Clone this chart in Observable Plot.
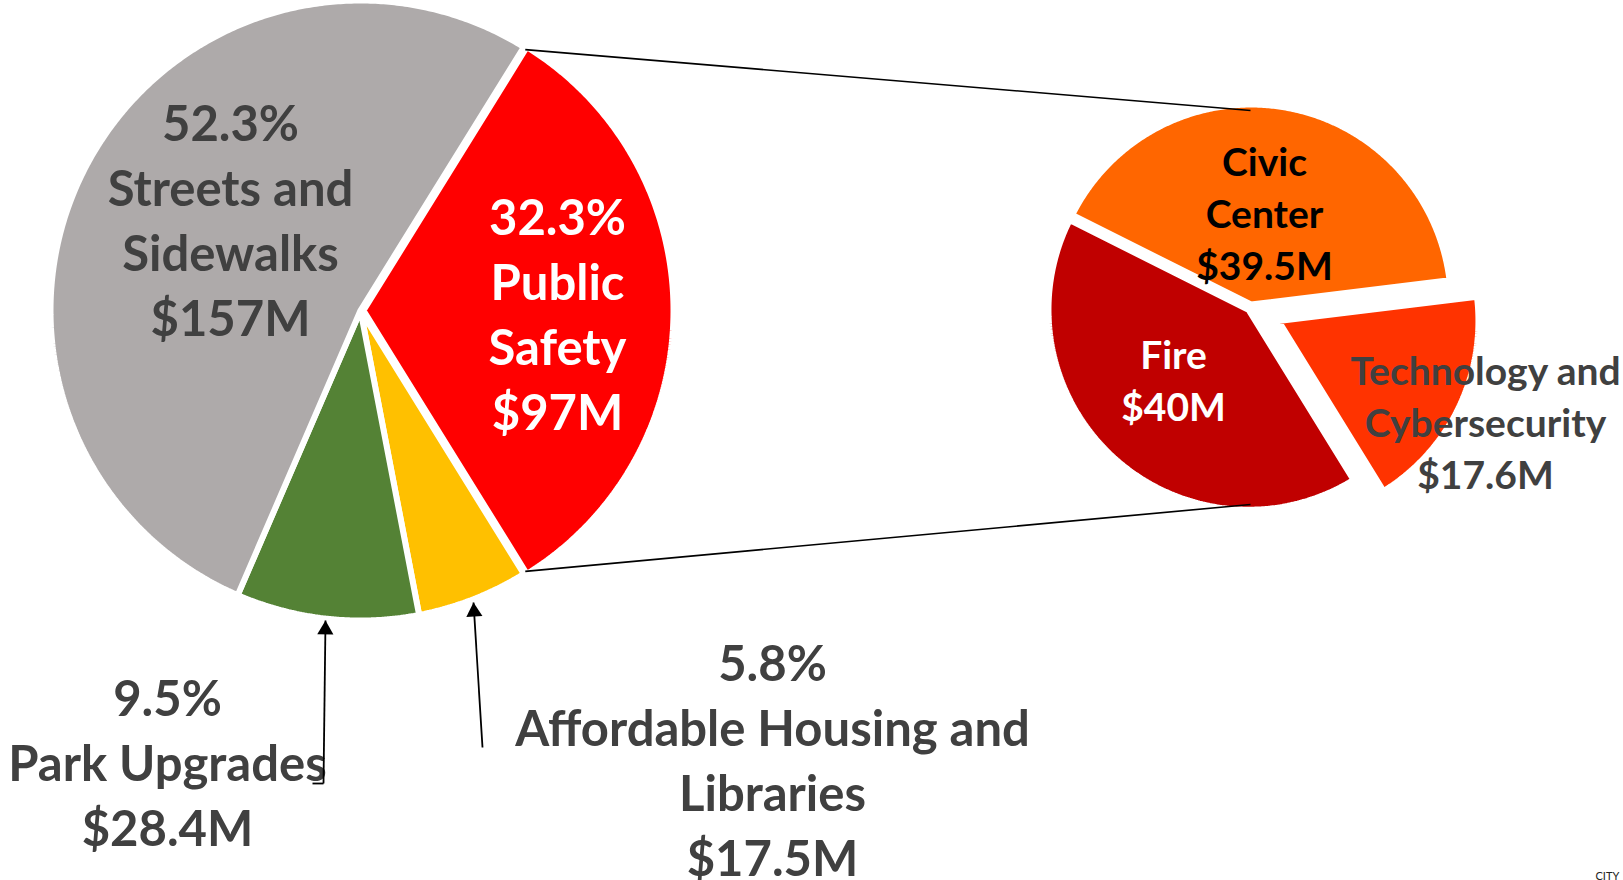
<!DOCTYPE html>
<html>
<head>
<meta charset="utf-8">
<script src="https://cdn.jsdelivr.net/npm/d3@7"></script>
<script src="https://cdn.jsdelivr.net/npm/@observablehq/plot@0.6"></script>
<style>
  html, body { margin: 0; padding: 0; background: #fff; overflow: hidden; }
  #chart svg { display: block; }
</style>
</head>
<body>
<div id="chart"></div>
<script>
// ---------------- DATA ----------------
const mainCategories = ["Public Safety", "Affordable Housing and Libraries", "Park Upgrades", "Streets and Sidewalks"];
const mainShares = [32.3, 5.8, 9.5, 52.3];          // percent
const mainAmounts = [97, 17.5, 28.4, 157];           // $M
const mainLabelLines = [["Public", "Safety"], ["Affordable Housing and", "Libraries"], ["Park Upgrades"], ["Streets and", "Sidewalks"]];

const subCategories = ["Civic Center", "Technology and Cybersecurity", "Fire"];
const subAmounts = [39.5, 17.6, 40];                 // $M (break-down of Public Safety)
const subLabelLines = [["Civic", "Center"], ["Technology and", "Cybersecurity"], ["Fire"]];

const creditText = "CITY";

// ---------------- STYLES ----------------
const mainColors = ["#FF0000", "#FFC000", "#548235", "#AEAAAA"];
const subColors = ["#FF6600", "#FF3300", "#C00000"];
const mainTextColors = ["#FFFFFF", "#404040", "#404040", "#404040"];
const subTextColors = ["#000000", "#404040", "#FFFFFF"];
const FONT = "Lato, 'Open Sans', sans-serif";

// ---------------- LAYOUT ----------------
const W = 1623, H = 880;
const mainPie = {cx: 360, cy: 310, r: 310, stroke: 6, explode: [3, 0, 0, 0]};
const subPie = {cx: 1250, cy: 307, r: 200, stroke: 6, startDeg: -63.4, explode: [3, 31, 3]};
const mainLabelPos = [[557, 311], [772, 757], [167, 760], [230, 217]];
const subLabelPos = [[1264, 211], [1485, 420], [1173, 378]];
const mainFont = {size: 49, lineHeight: 65};
const subFont = {size: 39, lineHeight: 52};
// arrows: [tailX, tailY, tipX, tipY]
const arrows = [[323, 783, 325, 620], [482, 747, 473, 602]];
const ticks = [[312, 783, 323, 783]];
const creditPos = [1595, 872];

// ---------------- GEOMETRY (from values) ----------------
const rad = d => d * Math.PI / 180;

function slicePoints(key, cx, cy, r, a0, a1, explode) {
  const mid = (a0 + a1) / 2;
  const ox = cx + explode * Math.sin(mid), oy = cy - explode * Math.cos(mid);
  const pts = [{key, x: ox, y: oy}];
  const n = Math.max(2, Math.ceil((a1 - a0) / rad(0.5)));
  for (let i = 0; i <= n; i++) {
    const a = a0 + (a1 - a0) * i / n;
    pts.push({key, x: ox + r * Math.sin(a), y: oy - r * Math.cos(a)});
  }
  return pts;
}

// main pie: "other" slice (Public Safety) centred at 3 o'clock
const mainTotal = d3.sum(mainShares);
const mainStart = Math.PI / 2 - Math.PI * mainShares[0] / mainTotal;
const mainArcs = d3.pie().sort(null).startAngle(mainStart).endAngle(mainStart + 2 * Math.PI)(mainShares);
const subArcs = d3.pie().sort(null).startAngle(rad(subPie.startDeg)).endAngle(rad(subPie.startDeg) + 2 * Math.PI)(subAmounts);

const mainSlices = mainArcs.map((a, i) => ({
  color: mainColors[i],
  pts: slicePoints(mainCategories[i], mainPie.cx, mainPie.cy, mainPie.r, a.startAngle, a.endAngle, mainPie.explode[i])
}));
const subSlices = subArcs.map((a, i) => ({
  color: subColors[i],
  pts: slicePoints(subCategories[i], subPie.cx, subPie.cy, subPie.r, a.startAngle, a.endAngle, subPie.explode[i])
}));

// connector lines from the Public Safety slice to the breakdown pie
const ps = mainArcs[0];
const rv = mainPie.r - mainPie.stroke / 2;
const pOx = mainPie.cx + mainPie.explode[0] * Math.sin((ps.startAngle + ps.endAngle) / 2);
const connectors = [
  {x1: pOx + rv * Math.sin(ps.startAngle), y1: mainPie.cy - rv * Math.cos(ps.startAngle),
   x2: subPie.cx, y2: subPie.cy - subPie.r + subPie.stroke / 2},
  {x1: pOx + rv * Math.sin(ps.endAngle), y1: mainPie.cy - rv * Math.cos(ps.endAngle),
   x2: subPie.cx, y2: subPie.cy + subPie.r - subPie.stroke / 2}
];

// labels
const fmtM = v => `$${v}M`;
const mainLabels = mainCategories.map((c, i) => ({
  x: mainLabelPos[i][0], y: mainLabelPos[i][1], color: mainTextColors[i],
  text: [`${mainShares[i]}%`, ...mainLabelLines[i], fmtM(mainAmounts[i])].join("\n")
}));
const subLabels = subCategories.map((c, i) => ({
  x: subLabelPos[i][0], y: subLabelPos[i][1], color: subTextColors[i],
  text: [...subLabelLines[i], fmtM(subAmounts[i])].join("\n")
}));

// arrowheads
const heads = arrows.map(([x1, y1, x2, y2]) => {
  const len = Math.hypot(x2 - x1, y2 - y1);
  const ux = (x2 - x1) / len, uy = (y2 - y1) / len;
  const off = 9.3;
  return {x: x2 - ux * off, y: y2 - uy * off, rot: Math.atan2(ux, -uy) * 180 / Math.PI};
});
const shafts = arrows.map(([x1, y1, x2, y2]) => ({x1, y1, x2, y2}))
  .concat(ticks.map(([x1, y1, x2, y2]) => ({x1, y1, x2, y2})));

// ---------------- PLOT ----------------
const sliceMarks = (slices, sw) => slices.map(s => Plot.line(s.pts, {
  x: "x", y: "y", curve: "linear-closed", fill: s.color,
  stroke: "white", strokeWidth: sw, strokeLinejoin: "miter", strokeLinecap: "butt"
}));

const chart = Plot.plot({
  width: W, height: H,
  margin: 0,
  x: {domain: [0, W], range: [0, W], axis: null},
  y: {domain: [0, H], range: [0, H], axis: null},
  color: {type: "identity"},
  style: {background: "white", fontFamily: FONT, overflow: "visible"},
  marks: [
    ...sliceMarks(mainSlices, mainPie.stroke),
    ...sliceMarks(subSlices, subPie.stroke),
    Plot.link(connectors, {x1: "x1", y1: "y1", x2: "x2", y2: "y2", stroke: "black", strokeWidth: 1.6}),
    Plot.text(mainLabels, {
      x: "x", y: "y", text: "text", fill: "color",
      fontSize: mainFont.size, fontWeight: "bold", fontFamily: FONT,
      lineHeight: mainFont.lineHeight / mainFont.size, lineAnchor: "middle", textAnchor: "middle"
    }),
    Plot.text(subLabels, {
      x: "x", y: "y", text: "text", fill: "color",
      fontSize: subFont.size, fontWeight: "bold", fontFamily: FONT,
      lineHeight: subFont.lineHeight / subFont.size, lineAnchor: "middle", textAnchor: "middle"
    }),
    Plot.link(shafts, {x1: "x1", y1: "y1", x2: "x2", y2: "y2", stroke: "black", strokeWidth: 1.8}),
    Plot.dot(heads, {x: "x", y: "y", symbol: "triangle", r: 6, fill: "black", stroke: null, rotate: "rot"}),
    Plot.text([creditText], {
      x: () => creditPos[0], y: () => creditPos[1], text: d => d,
      fontSize: 11, fill: "#222", textAnchor: "start", lineAnchor: "top", fontFamily: FONT
    })
  ]
});
document.getElementById("chart").appendChild(chart);
</script>
</body>
</html>
